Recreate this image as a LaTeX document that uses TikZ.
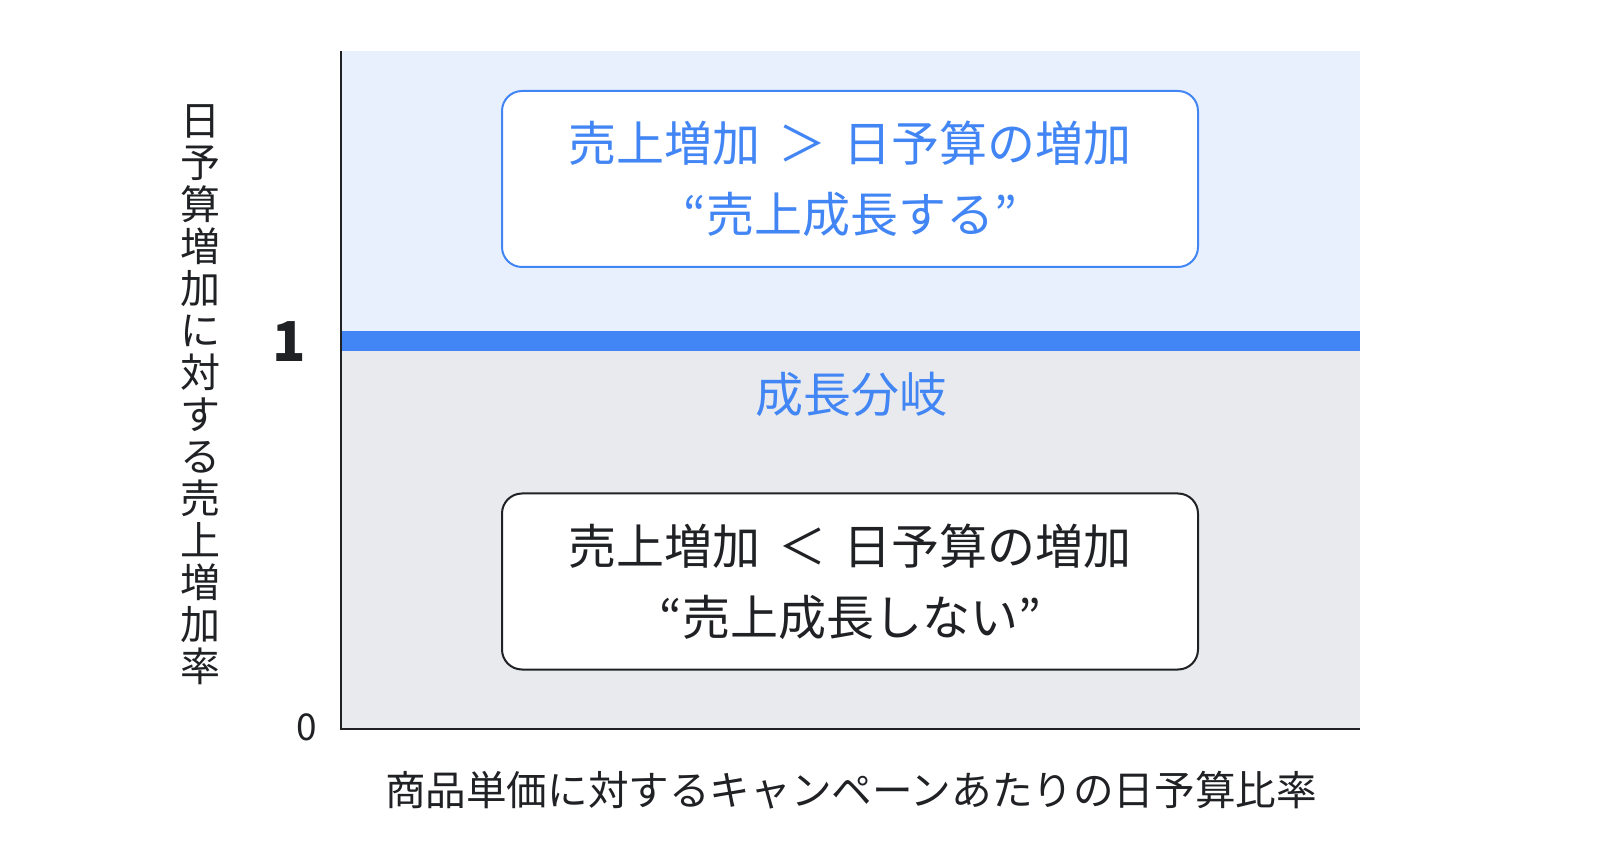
\documentclass[tikz,border=0pt]{standalone}
\usepackage{fontspec}
\setmainfont{Noto Sans CJK JP}
\usetikzlibrary{positioning}

\definecolor{gblue}{HTML}{4285F4}
\definecolor{gpaleblue}{HTML}{E8F0FE}
\definecolor{ggray}{HTML}{E8EAED}
\definecolor{gtext}{HTML}{202124}

\tikzset{
    resultbox/.style={draw, line width=1pt, rounded corners=10pt, fill=white,
        minimum width=348pt, minimum height=88pt, align=center,
        font=\fontsize{24}{35.5}\selectfont},
    axislabel/.style={text=gtext, inner sep=0pt, font=\fontsize{20}{21}\selectfont},
}

\begin{document}
\begin{tikzpicture}[x=0.5pt, y=-0.5pt]
    \useasboundingbox (0,0) rectangle (1600,860);
    \coordinate (top) at (341,51);
    \coordinate (origin) at (341,729);
    \coordinate (right) at (1360,729);
    \fill[gpaleblue] (top) rectangle (1360,331);
    \fill[ggray] (341,351) rectangle (right);
    \fill[gblue] (341,331) rectangle (1360,351);
    \draw[gtext, line width=1pt] (top) -- (origin) -- (right);

    \node[resultbox, draw=gblue, text=gblue] (grow) at (850,179) {
        売上増加\hspace{0.36em}＞\hspace{0.36em}日予算の増加\\
        “売上成長する”
    };
    \node[resultbox, draw=gtext, text=gtext] (nogrow) at (850,581.5) {
        売上増加\hspace{0.36em}＜\hspace{0.36em}日予算の増加\\
        “売上成長しない”
    };
    \node[text=gblue, inner sep=0pt, font=\fontsize{24}{28}\selectfont] (branch) at (851,394) {成長分岐};

    \node[text=gtext, inner sep=0pt, font=\fontsize{27.5}{30}\selectfont\bfseries] (one) at (289,342) {1};
    \node[text=gtext, inner sep=0pt, font=\fontsize{18.5}{20}\selectfont] (zero) at (307,727) {0};
    \node[axislabel, font=\fontsize{20.3}{21}\selectfont] (xlabel) at (851,790) {商品単価に対するキャンペーンあたりの日予算比率};
    \node[axislabel, align=center] (ylabel) at (200,395) {
        日\\予\\算\\増\\加\\に\\対\\す\\る\\売\\上\\増\\加\\率
    };
\end{tikzpicture}
\end{document}
